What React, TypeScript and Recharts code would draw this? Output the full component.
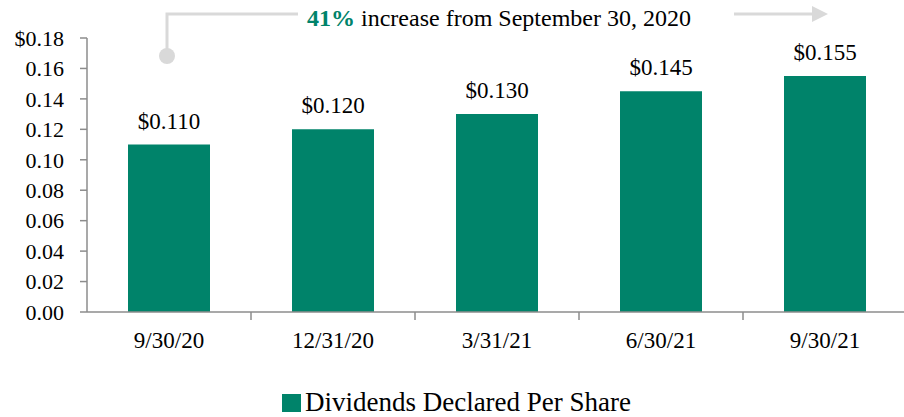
import { BarChart, Bar, XAxis, YAxis, Legend, LabelList } from 'recharts';

const periods = ['9/30/20', '12/31/20', '3/31/21', '6/30/21', '9/30/21'];
const dividends = [0.11, 0.12, 0.13, 0.145, 0.155];
const yTicks = [0, 0.02, 0.04, 0.06, 0.08, 0.1, 0.12, 0.14, 0.16, 0.18];
const seriesName = 'Dividends Declared Per Share';
const noteBold = '41%';
const noteText = ' increase from September 30, 2020';

const data = periods.map((period, i) => ({ period, value: dividends[i] }));

const FONT = 'Liberation Serif, Times New Roman, serif';
const GREEN = '#00836a';
const AXIS = '#8c8c8c';
const NOTE_LINE = '#d9d9d9';

const XTick = (props: any) => {
  const { x, y, payload, index } = props;
  const half = payload?.offset || 82;
  return (
    <g>
      <text x={x} y={y} dy={28} textAnchor="middle" fill="#000" fontSize={23} style={{ fontFamily: FONT }}>
        {payload.value}
      </text>
      {index < periods.length - 1 && (
        <line x1={x + half} x2={x + half} y1={y - 8} y2={y} stroke={AXIS} strokeWidth={1.5} />
      )}
    </g>
  );
};

const LegendBox = () => (
  <div style={{ display: 'flex', justifyContent: 'center', alignItems: 'flex-start', paddingTop: 29, marginLeft: 6 }}>
    <div style={{ width: 19, height: 18, background: GREEN, marginRight: 4, marginTop: 3 }} />
    <span style={{ fontFamily: FONT, fontSize: 27, color: '#000', lineHeight: '22px' }}>{seriesName}</span>
  </div>
);

const App = () => {
  return (
    <div style={{ position: 'absolute', left: 0, top: 0, width: 904, height: 417, background: '#fff', fontFamily: FONT }}>
      <BarChart
        width={904}
        height={417}
        data={data}
        margin={{ top: 38, right: -3, bottom: 0, left: 0 }}
        style={{ fontFamily: FONT }}
      >
        <XAxis
          dataKey="period"
          height={50}
          stroke={AXIS}
          strokeWidth={1.5}
          tickLine={false}
          tickSize={8}
          tickMargin={0}
          tick={<XTick />}
          interval={0}
        />
        <YAxis
          width={87}
          domain={[0, 0.18]}
          ticks={yTicks}
          interval={0}
          stroke={AXIS}
          strokeWidth={1.5}
          tickSize={7}
          tickMargin={16}
          tick={{ fill: '#000', fontSize: 22, style: { fontFamily: FONT } }}
          tickFormatter={(v: number) => (v === 0.18 ? `$${v.toFixed(2)}` : v.toFixed(2))}
        />
        <Legend verticalAlign="bottom" height={55} content={() => <LegendBox />} />
        <Bar dataKey="value" name={seriesName} fill={GREEN} barSize={82} isAnimationActive={false}>
          <LabelList
            dataKey="value"
            position="top"
            offset={16}
            fill="#000"
            fontSize={23}
            style={{ fontFamily: FONT }}
            formatter={(v: any) => `$${Number(v).toFixed(3)}`}
          />
        </Bar>
      </BarChart>
      <svg
        width={904}
        height={70}
        style={{ position: 'absolute', left: 0, top: 0, pointerEvents: 'none', fontFamily: FONT }}
      >
        <path d="M167 56 V14 H298" fill="none" stroke={NOTE_LINE} strokeWidth={3} />
        <circle cx={167} cy={56} r={8} fill={NOTE_LINE} />
        <text x={499} y={26} fontSize={24} fill="#000" textAnchor="middle">
          <tspan fontWeight="bold" fill={GREEN}>{noteBold}</tspan>
          <tspan>{noteText}</tspan>
        </text>
        <line x1={734} x2={813} y1={14} y2={14} stroke={NOTE_LINE} strokeWidth={3} />
        <polygon points="812,6 828,14 812,22" fill={NOTE_LINE} />
      </svg>
    </div>
  );
};

export default App;
